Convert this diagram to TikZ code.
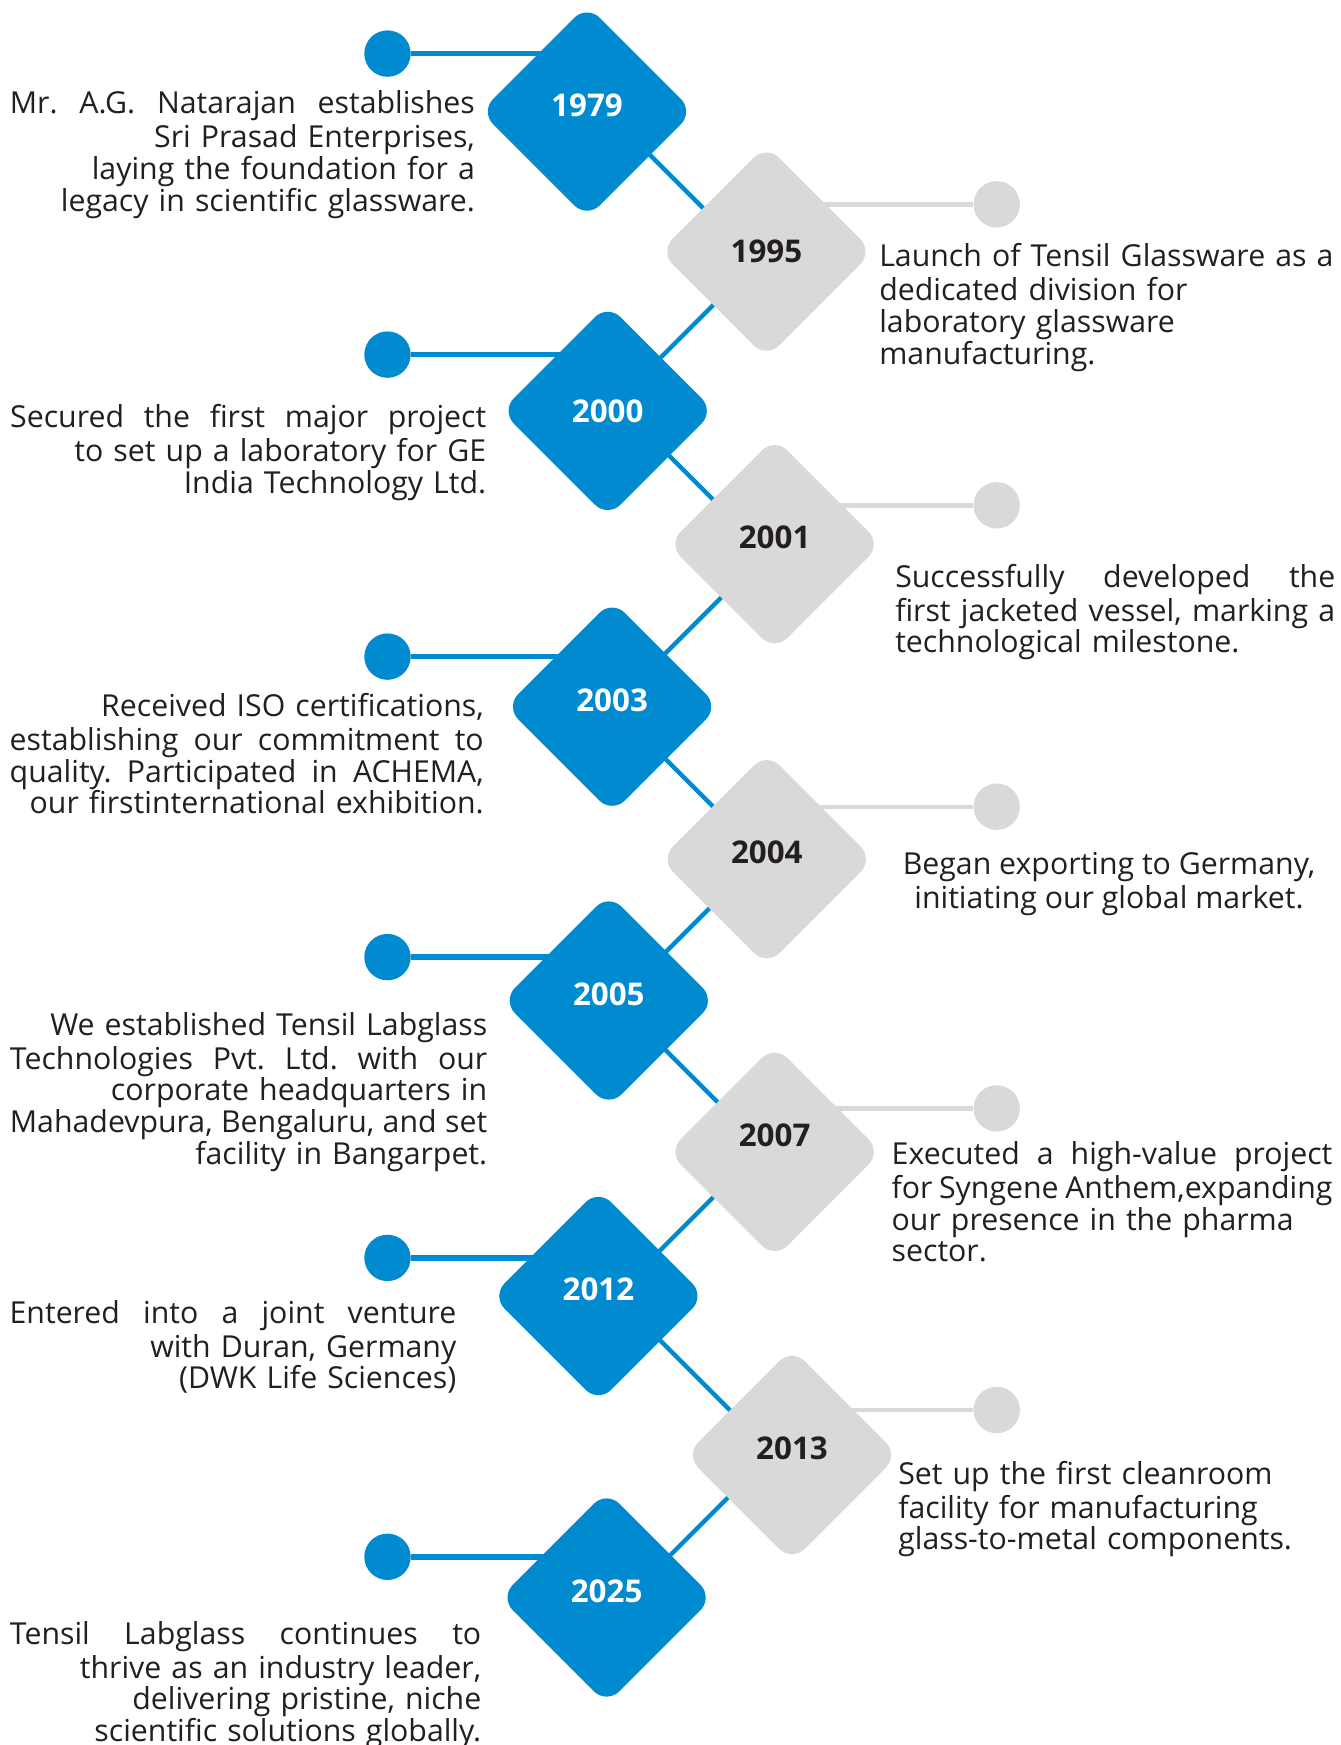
\documentclass[tikz,border=0pt]{standalone}
\usepackage{fontspec}
\setmainfont{Open Sans}
\usepackage{xcolor}
\usetikzlibrary{positioning, shapes.geometric, calc, backgrounds}

\definecolor{tlblue}{HTML}{008BD0}
\definecolor{tlgray}{HTML}{D9D9D9}
\definecolor{tlink}{HTML}{231F20}
\newcommand{\tlbody}{\fontsize{22.7}{23.8}\selectfont}
\newcommand{\tlyear}{\bfseries\fontsize{23.5}{28}\selectfont}
\newcommand{\fullline}[1]{\makebox[\linewidth][s]{#1}}

\begin{document}
\begin{tikzpicture}[x=0.75pt, y=-0.75pt,
  bluebox/.style={diamond, fill=tlblue, text=white, minimum size=160pt, inner sep=0pt,
    rounded corners=13.5pt, font=\tlyear, text depth=10pt},
  graybox/.style={bluebox, fill=tlgray, text=tlink},
  bluedot/.style={circle, fill=tlblue, minimum size=34.8pt, inner sep=0pt},
  graydot/.style={bluedot, fill=tlgray},
  bluebar/.style={draw=tlblue, line width=4.3pt},
  graybar/.style={draw=tlgray, line width=3.3pt},
  link/.style={draw=tlblue, line width=3.3pt},
  lefttext/.style={anchor=north east, align=right, inner sep=0pt, font=\tlbody, text=tlink},
  righttext/.style={anchor=north west, align=left, inner sep=0pt, font=\tlbody, text=tlink}]
  \useasboundingbox (0,0) rectangle (1341,1745);

  % Years
  \node[bluebox] (y1979) at (587,111.6) {1979};
  \node[graybox, text depth=0pt] (y1995) at (766.4,251.6) {1995};
  \node[bluebox, text depth=0pt] (y2000) at (607.7,410.9) {2000};
  \node[graybox] (y2001) at (774.6,544.2) {2001};
  \node[bluebox] (y2003) at (612.1,706.7) {2003};
  \node[graybox] (y2004) at (766.8,859.2) {2004};
  \node[bluebox] (y2005) at (608.8,1000.5) {2005};
  \node[graybox, text depth=25pt] (y2007) at (774.6,1151.9) {2007};
  \node[bluebox] (y2012) at (598.4,1296) {2012};
  \node[graybox] (y2013) at (792,1455) {2013};
  \node[bluebox] (y2025) at (606.6,1597.5) {2025};

  % Dots
  \foreach \yr/\ypos in {1979/53.6, 2000/354.6, 2003/656.6, 2005/957.1, 2012/1257.9, 2025/1556.8}
    \node[bluedot] (d\yr) at (387.5,\ypos) {};
  \foreach \yr/\ypos in {1995/204.3, 2001/505.3, 2004/806.7, 2007/1108.4, 2013/1410}
    \node[graydot] (d\yr) at (996.7,\ypos) {};

  % Connectors
  \begin{scope}[on background layer]
    \foreach \yr in {1979, 2000, 2003, 2005, 2012, 2025}
      \draw[bluebar] (d\yr) -- (d\yr -| y\yr);
    \foreach \yr in {1995, 2001, 2004, 2007, 2013}
      \draw[graybar] (d\yr) -- (d\yr -| y\yr);
    \foreach \a/\b in {1979/1995, 2000/2001, 2003/2004, 2005/2007, 2012/2013}
      \draw[link] ($(y\a)!0.5!(y\b)+(-60,-60)$) -- ($(y\a)!0.5!(y\b)+(60,60)$);
    \foreach \a/\b in {1995/2000, 2001/2003, 2004/2005, 2007/2012, 2013/2025}
      \draw[link] ($(y\a)!0.5!(y\b)+(60,-60)$) -- ($(y\a)!0.5!(y\b)+(-60,60)$);
  \end{scope}

  % Left texts
  \node[lefttext, text width=348.8pt] (t1979) at (475.2,90.5) {\strut\fullline{Mr.\hfill A.G.\hfill Natarajan\hfill establishes}\\
    Sri Prasad Enterprises,\\ laying the foundation for a\\ legacy in scientific glassware.};
  \node[lefttext, text width=357pt] (t2000) at (486.5,404) {\strut\fullline{Secured\hfill the\hfill first\hfill major\hfill project}\\
    to set up a laboratory for GE\\ India Technology Ltd.};
  \node[lefttext, text width=355.5pt] (t2003) at (484,693) {\strut Received ISO certifications,\\
    \fullline{establishing\hfill our\hfill commitment\hfill to}\\
    \fullline{quality.\hfill Participated\hfill in\hfill ACHEMA,}\\
    our firstinternational exhibition.};
  \node[lefttext, text width=358pt] (t2005) at (487.5,1012) {\strut We established Tensil Labglass\\
    \fullline{Technologies\hfill Pvt.\hfill Ltd.\hfill with\hfill our}\\ corporate headquarters in\\
    \fullline{Mahadevpura,\hfill Bengaluru,\hfill and\hfill set}\\ facility in Bangarpet.};
  \node[lefttext, text width=335pt] (t2012) at (456.6,1300) {\strut\fullline{Entered\hfill into\hfill a\hfill joint\hfill venture}\\
    with Duran, Germany\\ (DWK Life Sciences)};
  \node[lefttext, text width=353.5pt] (t2025) at (481.5,1621) {\strut\fullline{Tensil\hfill Labglass\hfill continues\hfill to}\\
    thrive as an industry leader,\\ delivering pristine, niche\\ scientific solutions globally.};

  % Right texts
  \node[righttext, text width=350pt] (t1995) at (879,243.5) {\strut Launch of Tensil Glassware as a\\
    dedicated division for\\ laboratory glassware\\ manufacturing.};
  \node[righttext, text width=330pt] (t2001) at (895,563.7) {\strut\fullline{Successfully\hfill developed\hfill the}\\
    \fullline{first\hfill jacketed\hfill vessel,\hfill marking\hfill a}\\ technological milestone.};
  \node[righttext, anchor=north, align=center] (t2004) at (1109,852) {\strut Began exporting to Germany,\\
    initiating our global market.};
  \node[righttext, text width=330.5pt] (t2007) at (891.4,1141) {\strut\fullline{Executed\hfill a\hfill high-value\hfill project}\\
    \fullline{for\hfill Syngene\hfill Anthem,expanding}\\ our presence in the pharma\\ sector.};
  \node[righttext, text width=330pt] (t2013) at (898,1460.6) {\strut Set up the first cleanroom\\
    facility for manufacturing\\ glass-to-metal components.};
\end{tikzpicture}
\end{document}
